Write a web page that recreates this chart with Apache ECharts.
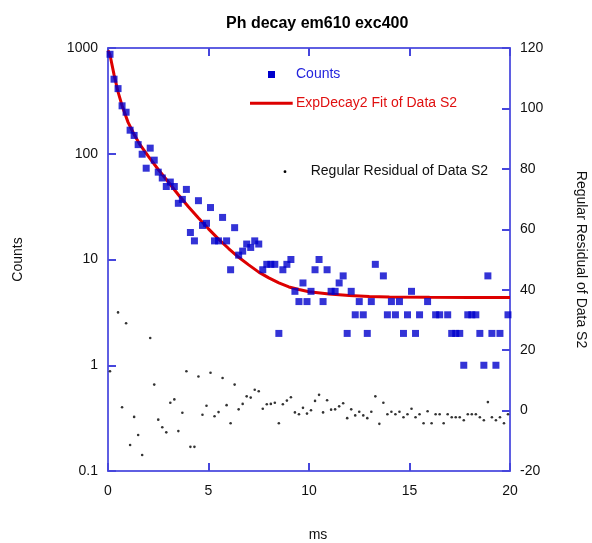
<!DOCTYPE html>
<html>
<head>
<meta charset="utf-8">
<script src="https://cdn.jsdelivr.net/npm/echarts@6/dist/echarts.min.js"></script>
<style>
html,body{margin:0;padding:0;background:#fff;}
#chart{width:592px;height:543px;}
</style>
</head>
<body>
<div id="chart"></div>
<script>
// time (ms) of each channel
var timeMs = [0.1,0.3,0.5,0.7,0.9,1.1,1.3,1.5,1.7,1.9,
  2.1,2.3,2.5,2.7,2.9,3.1,3.3,3.5,3.7,3.9,
  4.1,4.3,4.5,4.7,4.9,5.1,5.3,5.5,5.7,5.9,
  6.1,6.3,6.5,6.7,6.9,7.1,7.3,7.5,7.7,7.9,
  8.1,8.3,8.5,8.7,8.9,9.1,9.3,9.5,9.7,9.9,
  10.1,10.3,10.5,10.7,10.9,11.1,11.3,11.5,11.7,11.9,
  12.1,12.3,12.5,12.7,12.9,13.1,13.3,13.5,13.7,13.9,
  14.1,14.3,14.5,14.7,14.9,15.1,15.3,15.5,15.7,15.9,
  16.1,16.3,16.5,16.7,16.9,17.1,17.3,17.5,17.7,17.9,
  18.1,18.3,18.5,18.7,18.9,19.1,19.3,19.5,19.7,19.9];
// photon counts (0 = not drawable on log axis)
var counts = [872,507,413,284,247,167,149,122,99,73,
  113,87,67,59,49,54,49,34,37,46,
  18,15,36,21,22,31,15,15,25,15,
  8,20,11,12,14,13,15,14,8,9,
  9,9,2,8,9,10,5,4,6,4,
  5,8,10,4,8,5,5,6,7,2,
  5,3,4,3,2,4,9,0,7,3,
  4,3,4,2,3,5,2,3,0,4,
  0,3,3,0,3,2,2,2,1,3,
  3,3,2,1,7,2,1,2,0,3];
// regular residuals of the fit
var residuals = [13.0,-53,32.5,1.1,28.9,-11.4,-2.1,-8.1,-14.7,-28,
  24,8.6,-3,-5.5,-7.2,2.6,3.7,-6.8,-0.7,13,
  -12,-12,11.3,-1.4,1.6,12.5,-1.9,-0.5,10.8,1.8,
  -4.2,8.6,0.4,2.2,4.7,4.3,6.9,6.4,0.6,2.1,
  2.2,2.6,-4.2,2.1,3.3,4.4,-0.6,-1.2,0.9,-1,
  0.1,3.2,5.2,-0.6,3.4,0.3,0.4,1.4,2.4,-2.5,
  0.4,-1.6,-0.4,-1.6,-2.5,-0.4,4.7,-4.4,2.6,-1.2,
  -0.4,-1.2,-0.4,-2.2,-1.2,0.6,-2.2,-1.2,-4.2,-0.2,
  -4.2,-1.2,-1.2,-4.2,-1.2,-2.2,-2.2,-2.2,-3.2,-1.2,
  -1.2,-1.2,-2.2,-3.2,2.8,-2.2,-3.2,-2.2,-4.2,-1.2];
// ExpDecay2 fit curve
var fitX = [0,0.1,0.3,0.5,0.7,1.0,1.3,1.6,2.0,2.5,3.0,3.5,4.0,4.5,5.0,5.5,6.0,6.5,7.0,7.5,8.0,8.5,9.0,9.5,10,11,12,13,14,16,18,20];
var fitY = [950,860,560,385,285,198,152,121,95,71,54,41,31.5,24.7,19.5,15.6,12.7,10.5,8.9,7.6,6.7,6.0,5.5,5.2,4.95,4.72,4.56,4.47,4.42,4.39,4.38,4.38];
var xTicks = [0,5,10,15,20];
var leftTicks = [0.1,1,10,100,1000];
var rightTicks = [-20,0,20,40,60,80,100,120];

var countData = [], resData = [], fitData = [];
for (var i = 0; i < timeMs.length; i++) {
  if (counts[i] > 0) countData.push([timeMs[i], counts[i]]);
  resData.push([timeMs[i], residuals[i]]);
}
for (var j = 0; j < fitX.length; j++) fitData.push([fitX[j], fitY[j]]);

var FONT = '"Liberation Sans", Arial, sans-serif';
var AXC = '#5f5fe2';
var axisLineCfg = {show: true, onZero: false, lineStyle: {color: AXC, width: 2}};
var tickCfg = {show: true, inside: true, length: 8, lineStyle: {color: '#4646dc', width: 2}};
var labelCfg = {color: '#111', fontSize: 14, fontFamily: FONT};

function logLabel(v) {
  var best = leftTicks[0];
  for (var k = 0; k < leftTicks.length; k++) {
    if (Math.abs(Math.log10(leftTicks[k]) - Math.log10(v)) < Math.abs(Math.log10(best) - Math.log10(v))) best = leftTicks[k];
  }
  return String(best);
}

var chart = echarts.init(document.getElementById('chart'), null, {renderer: 'canvas'});
chart.setOption({
  animation: false,
  backgroundColor: '#fff',
  title: {
    text: 'Ph decay em610 exc400',
    left: 221, top: 11,
    textStyle: {fontSize: 16, fontWeight: 'bold', color: '#000', fontFamily: FONT}
  },
  grid: {left: 108, right: 82, top: 48, bottom: 72, containLabel: false, outerBoundsMode: 'none'},
  xAxis: [{
    type: 'value', min: xTicks[0], max: xTicks[xTicks.length - 1], interval: 5,
    position: 'bottom',
    name: 'ms', nameLocation: 'middle', nameGap: 57,
    nameTextStyle: {color: '#111', fontSize: 14, fontFamily: FONT, padding: [0, 0, 0, 18]},
    axisLine: axisLineCfg, axisTick: tickCfg,
    axisLabel: Object.assign({margin: 13}, labelCfg),
    splitLine: {show: false}
  }, {
    type: 'value', min: 0, max: 20, interval: 5,
    position: 'top',
    axisLine: axisLineCfg, axisTick: tickCfg,
    axisLabel: {show: false}, splitLine: {show: false}
  }],
  yAxis: [{
    type: 'log', logBase: 10, min: leftTicks[0], max: leftTicks[leftTicks.length - 1],
    position: 'left',
    name: 'Counts', nameLocation: 'middle', nameGap: 83,
    nameTextStyle: {color: '#111', fontSize: 14, fontFamily: FONT},
    axisLine: axisLineCfg, axisTick: tickCfg,
    axisLabel: Object.assign({margin: 10, formatter: logLabel}, labelCfg),
    minorTick: {show: false},
    splitLine: {show: false}
  }, {
    type: 'value', min: rightTicks[0], max: rightTicks[rightTicks.length - 1], interval: 20,
    position: 'right',
    name: 'Regular Residual of Data S2', nameLocation: 'middle', nameGap: 64, nameRotate: -90,
    nameTextStyle: {color: '#111', fontSize: 14, fontFamily: FONT},
    axisLine: axisLineCfg, axisTick: tickCfg,
    axisLabel: Object.assign({margin: 10}, labelCfg),
    splitLine: {show: false}
  }],
  series: [{
    name: 'ExpDecay2 Fit of Data S2',
    type: 'line', xAxisIndex: 0, yAxisIndex: 0,
    data: fitData, showSymbol: false, symbol: 'none', smooth: false,
    lineStyle: {color: '#dd0000', width: 3}, z: 2
  }, {
    name: 'Counts',
    type: 'scatter', xAxisIndex: 0, yAxisIndex: 0,
    data: countData, symbol: 'rect', symbolSize: 7,
    itemStyle: {color: '#0000cc'}, z: 3
  }, {
    name: 'Regular Residual of Data S2',
    type: 'scatter', xAxisIndex: 0, yAxisIndex: 1,
    data: resData, symbol: 'circle', symbolSize: 2.6, clip: true,
    itemStyle: {color: '#000'}, z: 4
  }],
  graphic: [
    {type: 'rect', shape: {x: 268, y: 71, width: 7, height: 7}, style: {fill: '#0000cc'}},
    {type: 'text', x: 296, y: 74.5, style: {text: 'Counts', fill: '#2424dd', font: '14px ' + FONT, textVerticalAlign: 'middle', verticalAlign: 'middle'}},
    {type: 'line', shape: {x1: 250, y1: 103.3, x2: 292.7, y2: 103.3}, style: {stroke: '#dd0000', lineWidth: 3}},
    {type: 'text', x: 296, y: 103.5, style: {text: 'ExpDecay2 Fit of Data S2', fill: '#e01010', font: '14px ' + FONT, textVerticalAlign: 'middle', verticalAlign: 'middle'}},
    {type: 'circle', shape: {cx: 285, cy: 171.7, r: 1.4}, style: {fill: '#000'}},
    {type: 'text', x: 310.7, y: 171, style: {text: 'Regular Residual of Data S2', fill: '#111', font: '14px ' + FONT, textVerticalAlign: 'middle', verticalAlign: 'middle'}}
  ]
});
</script>
</body>
</html>
